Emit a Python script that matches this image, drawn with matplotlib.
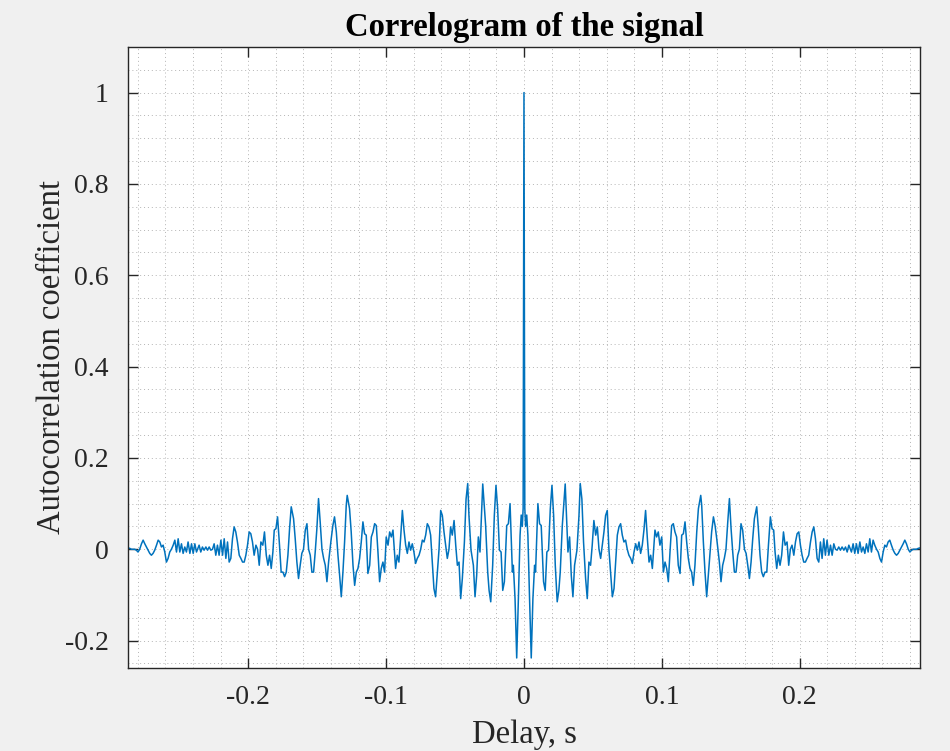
import numpy as np
import matplotlib
matplotlib.use("Agg")
import matplotlib.pyplot as plt
from matplotlib.ticker import MultipleLocator

# autocorrelation, positive lags only (the ACF is even)
lag_ms = [0, 0.6, 1.2, 2.0, 2.85, 4.05, 5.27, 6.48, 7.7, 8.4,
          10.1, 11.3, 12.5, 14.2, 15.4, 16.6, 17.8, 19.1, 20.3, 21.5,
          22.7, 24.1, 25.3, 26.3, 27.8, 29.9, 31.0, 31.9, 33.1, 34.3,
          35.5, 36.7, 38.4, 39.9, 40.8, 42.0, 43.2, 44.7, 45.9, 47.1,
          48.3, 49.5, 50.7, 52.0, 53.2, 54.4, 55.6, 56.8, 58.0, 59.2,
          60.4, 61.6, 62.8, 64.1, 65.3, 66.5, 67.7, 68.9, 70.1, 71.3,
          72.5, 73.7, 74.9, 76.1, 77.4, 78.6, 79.8, 81.0, 82.2, 83.4,
          84.6, 85.8, 87.0, 88.2, 89.5, 90.7, 91.9, 93.1, 95.0, 96.2,
          97.4, 98.6, 99.9, 101.1, 102.3, 103.5, 104.7, 105.9, 107.1, 108.3,
          109.5, 110.7, 111.9, 113.2, 114.4, 115.6, 116.8, 118.0, 119.2, 120.4,
          121.6, 122.8, 124.0, 125.3, 126.5, 128.2, 128.9, 130.1, 131.3, 132.5,
          133.7, 134.9, 136.1, 137.4, 138.6, 139.8, 141.7, 142.9, 144.1, 145.3,
          146.5, 147.8, 149.0, 150.2, 151.4, 152.6, 153.8, 155.0, 156.2, 157.4,
          158.6, 159.9, 161.1, 162.3, 163.5, 164.7, 165.9, 167.1, 168.8, 170.0,
          171.2, 172.4, 173.6, 174.8, 176.1, 177.3, 178.7, 179.9, 181.1, 182.1,
          183.3, 184.5, 185.7, 186.9, 188.2, 189.4, 190.8, 192.0, 193.2, 194.4,
          195.7, 196.9, 198.1, 199.3, 200.5, 201.7, 202.9, 204.1, 205.3, 206.5,
          207.8, 209.0, 210.2, 211.4, 212.6, 213.8, 215.0, 216.2, 217.4, 218.6,
          219.8, 221.1, 222.3, 223.5, 224.7, 225.9, 227.1, 228.3, 229.5, 230.7,
          232.0, 233.2, 234.4, 235.6, 237.5, 238.7, 239.9, 241.1, 242.3, 243.6,
          244.8, 246.0, 247.2, 248.4, 249.6, 250.8, 252.0, 253.2, 254.4, 255.7,
          256.9, 258.1, 259.3, 260.5, 261.7, 262.9, 264.1, 265.3, 266.5, 267.8,
          269.0, 270.2, 271.4, 272.6, 273.8, 275.0, 276.2, 277.4, 278.7, 279.9,
          281.1, 282.3, 283.5, 284.7, 285.9, 287.2]

acf = [1.0, 0.09, 0.05, 0.075, 0.03, -0.108, -0.238, -0.108, -0.035, -0.05,
       0.10, 0.056, 0.052, -0.071, -0.09, -0.006, -0.002, 0.089, 0.14, 0.074,
       -0.035, -0.115, -0.09, -0.05, 0.052, 0.143, 0.06, -0.006, 0.027, -0.057,
       -0.104, -0.035, -0.002, 0.074, 0.144, 0.11, 0.016, -0.064, -0.108, -0.028,
       -0.035, 0.009, 0.063, 0.031, 0.049, 0.0, -0.02, 0.009, 0.038, 0.074,
       0.085, 0.0, -0.05, -0.104, -0.086, -0.028, 0.031, 0.049, 0.056, 0.031,
       0.016, 0.02, 0.0, -0.013, -0.02, -0.031, -0.006, 0.012, -0.002, 0.016,
       -0.009, 0.009, 0.042, 0.085, 0.023, -0.028, -0.013, -0.042, 0.042, 0.027,
       0.038, 0.009, 0.027, -0.05, -0.028, -0.042, -0.071, -0.006, 0.052, 0.056,
       0.038, 0.027, -0.035, -0.053, 0.031, 0.034, 0.06, 0.016, -0.02, -0.042,
       -0.05, -0.079, -0.035, 0.038, 0.089, 0.118, 0.096, 0.016, -0.05, -0.104,
       -0.057, -0.013, 0.038, 0.071, 0.052, 0.023, -0.028, -0.071, -0.035, -0.02,
       0.0, 0.06, 0.111, 0.045, -0.006, -0.05, -0.05, -0.013, 0.0, 0.056,
       0.042, 0.0, -0.009, -0.035, -0.064, -0.028, 0.023, 0.067, 0.093, 0.045,
       -0.013, -0.05, -0.06, -0.05, -0.05, 0.009, 0.071, 0.045, 0.042, -0.006,
       -0.042, -0.013, -0.035, -0.013, 0.038, 0.009, 0.016, -0.035, 0.0, 0.009,
       -0.013, 0.016, 0.034, 0.038, 0.009, -0.013, -0.028, -0.028, -0.02, -0.013,
       0.016, 0.038, 0.049, 0.023, -0.02, -0.028, 0.016, -0.02, 0.023, -0.013,
       0.02, -0.013, 0.009, -0.013, 0.012, 0.0, -0.002, 0.005, -0.002, 0.005,
       -0.002, 0.005, -0.006, 0.009, -0.006, 0.012, -0.009, 0.012, -0.009, 0.016,
       -0.006, 0.005, -0.009, 0.012, -0.006, 0.023, -0.006, 0.02, 0.009, 0.0,
       -0.006, -0.02, -0.028, -0.006, 0.009, 0.005, 0.016, 0.02, 0.009, -0.002,
       -0.009, -0.013, -0.009, -0.002, 0.005, 0.012, 0.02, 0.012, 0.0, -0.006,
       -0.002, 0.0, 0.0, 0.0, 0.002, 0.003]

xticks = [-0.2, -0.1, 0, 0.1, 0.2]
xtick_labels = ['-0.2', '-0.1', '0', '0.1', '0.2']
yticks = [-0.2, 0, 0.2, 0.4, 0.6, 0.8, 1]
ytick_labels = ['-0.2', '0', '0.2', '0.4', '0.6', '0.8', '1']

# full two-sided correlogram
pos_lag = np.array(lag_ms) / 1000.0
pos_acf = np.array(acf)
delay = np.concatenate([-pos_lag[:0:-1], pos_lag])
r = np.concatenate([pos_acf[:0:-1], pos_acf])

plt.rcParams['font.family'] = ['Liberation Serif', 'DejaVu Serif']
plt.rcParams['axes.unicode_minus'] = False

fig = plt.figure(figsize=(9.5, 7.51), dpi=100, facecolor='#f0f0f0')
ax = fig.add_axes([0.1347, 0.1105, 0.8337, 0.827])
ax.set_facecolor('white')

ax.plot(delay, r, color='#0072bd', lw=1.1)

ax.set_xlim(-0.2872, 0.2872)
ax.set_ylim(-0.26, 1.1)
ax.set_xticks(xticks)
ax.set_xticklabels(xtick_labels)
ax.set_yticks(yticks)
ax.set_yticklabels(ytick_labels)
ax.xaxis.set_minor_locator(MultipleLocator(0.02))
ax.yaxis.set_minor_locator(MultipleLocator(0.05))

ax.grid(True, which='both', linestyle=(0, (1, 3)), color='#b4b4b4', lw=0.7)
ax.set_axisbelow(True)
ax.tick_params(which='major', direction='in', length=7, width=1, color='#262626',
               top=True, right=True, labelsize=20, labelcolor='#262626')
ax.tick_params(axis='x', which='major', pad=12)
ax.tick_params(axis='y', which='major', pad=14)
ax.tick_params(which='minor', length=0, top=True, right=True)
for s in ax.spines.values():
    s.set_color('#262626')
    s.set_linewidth(1.0)

ax.set_title('Correlogram of the signal', fontsize=23.5, fontweight='bold', pad=8)
ax.set_xlabel('Delay, s', fontsize=23.5, color='#262626', labelpad=7)
ax.set_ylabel('Autocorrelation coefficient', fontsize=23.5, color='#262626', labelpad=-2)

fig.savefig('out.png', dpi=100, facecolor=fig.get_facecolor())
